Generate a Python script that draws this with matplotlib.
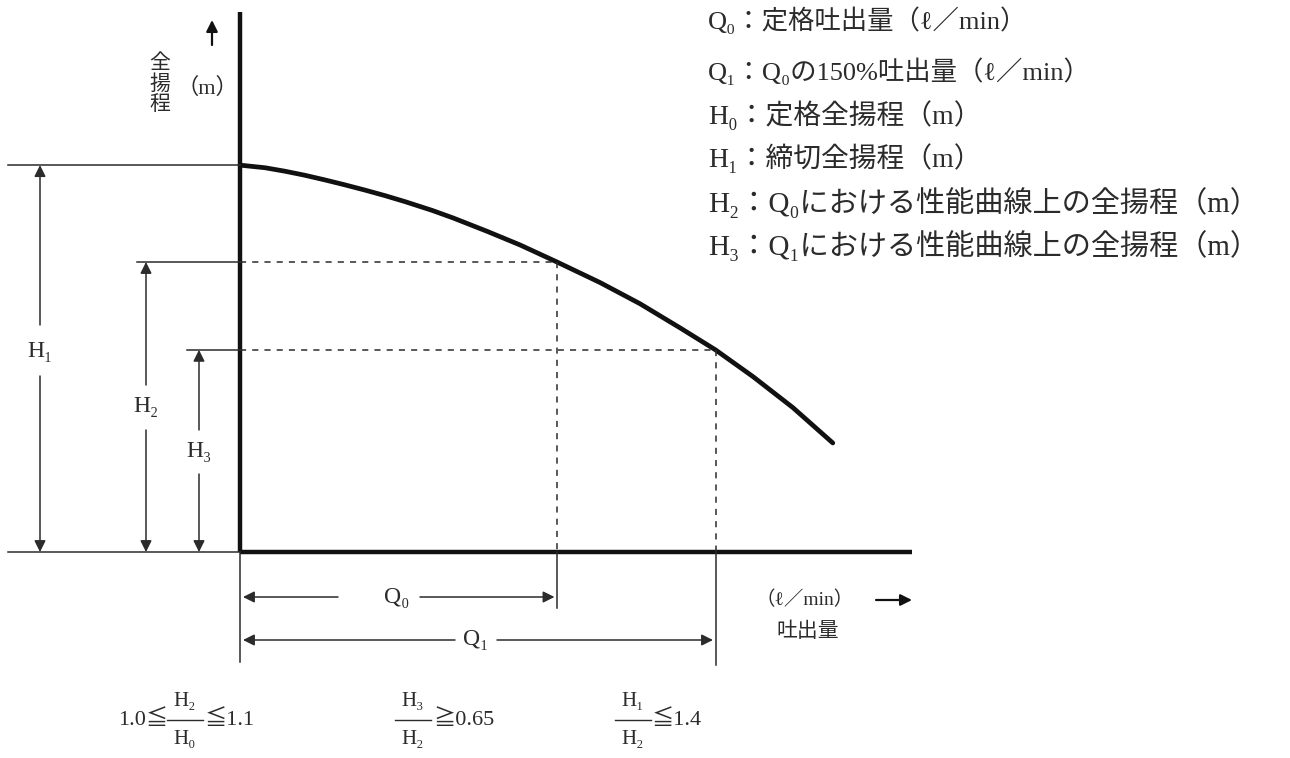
import matplotlib

matplotlib.use("Agg")
import matplotlib.pyplot as plt

plt.rcParams["font.family"] = ["Liberation Serif", "DejaVu Serif", "Noto Sans CJK JP"]

# performance curve (Q in % of rated flow, H in % of H2)
curve_q = [0, 7.9, 14.2, 20.5, 26.8, 33.1, 39.4, 45.7, 52.1, 60.6, 67.2,
           77.9, 88.3, 100, 113.6, 126.2, 138.8, 150, 161.8, 174.4, 187.0]
curve_h = [133.4, 132.5, 131.3, 129.9, 128.3, 126.6, 124.8, 122.9, 120.8,
           117.8, 115.2, 110.6, 105.9, 100, 92.9, 85.6, 77.3, 69.7, 60.5,
           49.8, 37.6]
q_marks = [100, 150]          # Q0, Q1
h_marks = [133.4, 100, 69.7]  # H1, H2, H3
legend_lines = [
    "Q₀：定格吐出量（ℓ／min）",
    "Q₁：Q₀の150%吐出量（ℓ／min）",
    "H₀：定格全揚程（m）",
    "H₁：締切全揚程（m）",
    "H₂：Q₀における性能曲線上の全揚程（m）",
    "H₃：Q₁における性能曲線上の全揚程（m）",
]

# pixel -> data helpers (origin of the chart at pixel 240,552)
SX, SY = 3.17, 2.90


def X(px):
    return (px - 240) / SX


def Y(py):
    return (552 - py) / SY


INK = "#111111"
GREY = "#2b2b2b"


def dim(ax, p_from, p_to):
    ax.annotate("", xy=p_to, xytext=p_from,
                arrowprops=dict(arrowstyle="-|>", color=GREY, lw=1.1,
                                mutation_scale=17, shrinkA=0, shrinkB=0))


fig = plt.figure(figsize=(12.9, 7.58), dpi=100)
ax = fig.add_axes([0, 0, 1, 1])
ax.set_xlim(X(0), X(1290))
ax.set_ylim(Y(758), Y(0))
ax.axis("off")

q0, q1 = q_marks
h1, h2, h3 = h_marks

# axes of the diagram
ax.plot([0, 0], [0, Y(12)], color=INK, lw=3.2, solid_capstyle="butt")
ax.plot([0, X(912)], [0, 0], color=INK, lw=3.2, solid_capstyle="butt")
ax.plot([0, 0], [Y(662), 0], color=GREY, lw=1.1)
ax.plot([X(8), 0], [0, 0], color=GREY, lw=1.1)

# performance curve
ax.plot(curve_q, curve_h, color=INK, lw=3.4, solid_capstyle="round",
        solid_joinstyle="round")

# reference lines
ax.plot([X(8), 0], [h1, h1], color=GREY, lw=1.1)
ax.plot([X(137), 0], [h2, h2], color=GREY, lw=1.1)
ax.plot([X(187), 0], [h3, h3], color=GREY, lw=1.1)
ax.plot([0, q0], [h2, h2], color=GREY, lw=1.1, ls=(0, (4, 4)))
ax.plot([0, q1], [h3, h3], color=GREY, lw=1.1, ls=(0, (4, 4)))
ax.plot([q0, q0], [h2, 0], color=GREY, lw=1.1, ls=(0, (4, 4)))
ax.plot([q1, q1], [h3, 0], color=GREY, lw=1.1, ls=(0, (4, 4)))
ax.plot([q0, q0], [0, Y(608)], color=GREY, lw=1.1)
ax.plot([q1, q1], [0, Y(665)], color=GREY, lw=1.1)

# vertical dimension arrows
lab = dict(ha="center", va="center", fontsize=17, color=GREY)
for xp, yl, gap_top, gap_bot, h, txt in [(40, 352, 325, 376, h1, "H₁"),
                                         (146, 407, 385, 430, h2, "H₂"),
                                         (199, 452, 430, 474, h3, "H₃")]:
    dim(ax, (X(xp), Y(gap_top)), (X(xp), h))
    dim(ax, (X(xp), Y(gap_bot)), (X(xp), 0))
    ax.text(X(xp), Y(yl), txt, **lab)

# horizontal dimension arrows
for yp, xl, gl, gr, q, txt in [(597, 397, 338, 420, q0, "Q₀"),
                               (640, 476, 455, 497, q1, "Q₁")]:
    dim(ax, (X(gl), Y(yp)), (X(243), Y(yp)))
    dim(ax, (X(gr), Y(yp)), (q - 0.8, Y(yp)))
    ax.text(X(xl), Y(yp), txt, **lab)

# axis titles
ax.text(X(160), Y(85), "全\n揚\n程", ha="center", va="center", fontsize=15,
        color=GREY, linespacing=1.05)
ax.text(X(207), Y(88), "（m）", ha="center", va="center", fontsize=16, color=GREY)
ax.annotate("", xy=(X(212), Y(20)), xytext=(X(212), Y(45)),
            arrowprops=dict(arrowstyle="-|>", color=INK, lw=1.6,
                            mutation_scale=17, shrinkA=0, shrinkB=0))
ax.text(X(805), Y(600), "（ℓ／min）", ha="center", va="center", fontsize=14,
        color=GREY)
ax.text(X(808), Y(632), "吐出量", ha="center", va="center", fontsize=15,
        color=GREY)
ax.annotate("", xy=(X(912), Y(600)), xytext=(X(876), Y(600)),
            arrowprops=dict(arrowstyle="-|>", color=INK, lw=1.6,
                            mutation_scale=17, shrinkA=0, shrinkB=0))

# legend text block
legend_y = [20, 71, 115, 158, 203, 246]
legend_size = [19, 19, 20, 20, 21, 21]
for line, yp, size in zip(legend_lines, legend_y, legend_size):
    ax.text(X(708), Y(yp), line, ha="left", va="center", fontsize=size,
            color=GREY)


# criteria formulas
def frac(xc, num, den, w):
    ax.text(X(xc), Y(702), num, ha="center", va="center", fontsize=15, color=GREY)
    ax.text(X(xc), Y(739), den, ha="center", va="center", fontsize=15, color=GREY)
    ax.plot([X(xc - w / 2), X(xc + w / 2)], [Y(720), Y(720)], color=GREY, lw=1.0)


fs = dict(ha="left", va="center", fontsize=16, color=GREY)
ax.text(X(118), Y(720), "1.0≦", **fs)
frac(185, "H₂", "H₀", 36)
ax.text(X(205), Y(720), "≦1.1", **fs)
frac(413, "H₃", "H₂", 36)
ax.text(X(433), Y(720), "≧0.65", **fs)
frac(633, "H₁", "H₂", 36)
ax.text(X(652), Y(720), "≦1.4", **fs)

fig.savefig("out.png", dpi=100, facecolor="white")
